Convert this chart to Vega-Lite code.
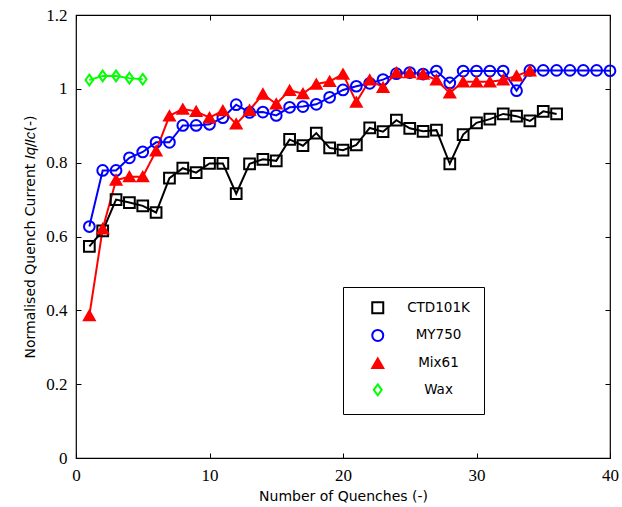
{
  "$schema": "https://vega.github.io/schema/vega-lite/v6.json",
  "width": 534,
  "height": 443,
  "autosize": {"type": "none"},
  "padding": {"left": 76, "top": 15, "right": 12, "bottom": 49},
  "background": "white",
  "config": {
    "view": {"stroke": "black", "strokeWidth": 1.2},
    "axis": {
      "domain": false,
      "grid": false,
      "tickColor": "black",
      "tickSize": -5,
      "tickWidth": 1,
      "labelFlush": false,
      "labelOverlap": false,
      "labelColor": "black",
      "labelFont": "Liberation Serif",
      "labelFontSize": 17,
      "titleColor": "black",
      "titleFont": "DejaVu Sans",
      "titleFontSize": 14,
      "titleFontWeight": "normal"
    }
  },
  "data": {
    "values": [
      {"series": "CTD101K", "n": 1, "v": 0.573},
      {"series": "CTD101K", "n": 2, "v": 0.615},
      {"series": "CTD101K", "n": 3, "v": 0.700},
      {"series": "CTD101K", "n": 4, "v": 0.692},
      {"series": "CTD101K", "n": 5, "v": 0.683},
      {"series": "CTD101K", "n": 6, "v": 0.665},
      {"series": "CTD101K", "n": 7, "v": 0.758},
      {"series": "CTD101K", "n": 8, "v": 0.785},
      {"series": "CTD101K", "n": 9, "v": 0.773},
      {"series": "CTD101K", "n": 10, "v": 0.798},
      {"series": "CTD101K", "n": 11, "v": 0.798},
      {"series": "CTD101K", "n": 12, "v": 0.716},
      {"series": "CTD101K", "n": 13, "v": 0.797},
      {"series": "CTD101K", "n": 14, "v": 0.809},
      {"series": "CTD101K", "n": 15, "v": 0.805},
      {"series": "CTD101K", "n": 16, "v": 0.863},
      {"series": "CTD101K", "n": 17, "v": 0.846},
      {"series": "CTD101K", "n": 18, "v": 0.880},
      {"series": "CTD101K", "n": 19, "v": 0.840},
      {"series": "CTD101K", "n": 20, "v": 0.834},
      {"series": "CTD101K", "n": 21, "v": 0.848},
      {"series": "CTD101K", "n": 22, "v": 0.894},
      {"series": "CTD101K", "n": 23, "v": 0.884},
      {"series": "CTD101K", "n": 24, "v": 0.915},
      {"series": "CTD101K", "n": 25, "v": 0.893},
      {"series": "CTD101K", "n": 26, "v": 0.885},
      {"series": "CTD101K", "n": 27, "v": 0.888},
      {"series": "CTD101K", "n": 28, "v": 0.797},
      {"series": "CTD101K", "n": 29, "v": 0.876},
      {"series": "CTD101K", "n": 30, "v": 0.908},
      {"series": "CTD101K", "n": 31, "v": 0.918},
      {"series": "CTD101K", "n": 32, "v": 0.932},
      {"series": "CTD101K", "n": 33, "v": 0.926},
      {"series": "CTD101K", "n": 34, "v": 0.913},
      {"series": "CTD101K", "n": 35, "v": 0.939},
      {"series": "CTD101K", "n": 36, "v": 0.932},
      {"series": "MY750", "n": 1, "v": 0.627},
      {"series": "MY750", "n": 2, "v": 0.779},
      {"series": "MY750", "n": 3, "v": 0.779},
      {"series": "MY750", "n": 4, "v": 0.813},
      {"series": "MY750", "n": 5, "v": 0.829},
      {"series": "MY750", "n": 6, "v": 0.855},
      {"series": "MY750", "n": 7, "v": 0.855},
      {"series": "MY750", "n": 8, "v": 0.901},
      {"series": "MY750", "n": 9, "v": 0.901},
      {"series": "MY750", "n": 10, "v": 0.904},
      {"series": "MY750", "n": 11, "v": 0.922},
      {"series": "MY750", "n": 12, "v": 0.957},
      {"series": "MY750", "n": 13, "v": 0.936},
      {"series": "MY750", "n": 14, "v": 0.937},
      {"series": "MY750", "n": 15, "v": 0.928},
      {"series": "MY750", "n": 16, "v": 0.950},
      {"series": "MY750", "n": 17, "v": 0.952},
      {"series": "MY750", "n": 18, "v": 0.958},
      {"series": "MY750", "n": 19, "v": 0.977},
      {"series": "MY750", "n": 20, "v": 0.997},
      {"series": "MY750", "n": 21, "v": 1.007},
      {"series": "MY750", "n": 22, "v": 1.015},
      {"series": "MY750", "n": 23, "v": 1.025},
      {"series": "MY750", "n": 24, "v": 1.041},
      {"series": "MY750", "n": 25, "v": 1.044},
      {"series": "MY750", "n": 26, "v": 1.040},
      {"series": "MY750", "n": 27, "v": 1.048},
      {"series": "MY750", "n": 28, "v": 1.016},
      {"series": "MY750", "n": 29, "v": 1.048},
      {"series": "MY750", "n": 30, "v": 1.048},
      {"series": "MY750", "n": 31, "v": 1.048},
      {"series": "MY750", "n": 32, "v": 1.048},
      {"series": "MY750", "n": 33, "v": 0.995},
      {"series": "MY750", "n": 34, "v": 1.050},
      {"series": "MY750", "n": 35, "v": 1.050},
      {"series": "MY750", "n": 36, "v": 1.050},
      {"series": "MY750", "n": 37, "v": 1.050},
      {"series": "MY750", "n": 38, "v": 1.050},
      {"series": "MY750", "n": 39, "v": 1.050},
      {"series": "MY750", "n": 40, "v": 1.049},
      {"series": "Mix61", "n": 1, "v": 0.386},
      {"series": "Mix61", "n": 2, "v": 0.621},
      {"series": "Mix61", "n": 3, "v": 0.753},
      {"series": "Mix61", "n": 4, "v": 0.762},
      {"series": "Mix61", "n": 5, "v": 0.762},
      {"series": "Mix61", "n": 6, "v": 0.832},
      {"series": "Mix61", "n": 7, "v": 0.927},
      {"series": "Mix61", "n": 8, "v": 0.945},
      {"series": "Mix61", "n": 9, "v": 0.939},
      {"series": "Mix61", "n": 10, "v": 0.922},
      {"series": "Mix61", "n": 11, "v": 0.941},
      {"series": "Mix61", "n": 12, "v": 0.905},
      {"series": "Mix61", "n": 13, "v": 0.942},
      {"series": "Mix61", "n": 14, "v": 0.986},
      {"series": "Mix61", "n": 15, "v": 0.959},
      {"series": "Mix61", "n": 16, "v": 0.996},
      {"series": "Mix61", "n": 17, "v": 0.987},
      {"series": "Mix61", "n": 18, "v": 1.013},
      {"series": "Mix61", "n": 19, "v": 1.020},
      {"series": "Mix61", "n": 20, "v": 1.040},
      {"series": "Mix61", "n": 21, "v": 0.964},
      {"series": "Mix61", "n": 22, "v": 1.024},
      {"series": "Mix61", "n": 23, "v": 1.004},
      {"series": "Mix61", "n": 24, "v": 1.044},
      {"series": "Mix61", "n": 25, "v": 1.044},
      {"series": "Mix61", "n": 26, "v": 1.040},
      {"series": "Mix61", "n": 27, "v": 1.024},
      {"series": "Mix61", "n": 28, "v": 0.989},
      {"series": "Mix61", "n": 29, "v": 1.019},
      {"series": "Mix61", "n": 30, "v": 1.019},
      {"series": "Mix61", "n": 31, "v": 1.019},
      {"series": "Mix61", "n": 32, "v": 1.024},
      {"series": "Mix61", "n": 33, "v": 1.035},
      {"series": "Mix61", "n": 34, "v": 1.049},
      {"series": "Wax", "n": 1, "v": 1.024},
      {"series": "Wax", "n": 2, "v": 1.035},
      {"series": "Wax", "n": 3, "v": 1.035},
      {"series": "Wax", "n": 4, "v": 1.029},
      {"series": "Wax", "n": 5, "v": 1.026}
    ]
  },
  "encoding": {
    "color": {
      "field": "series",
      "type": "nominal",
      "scale": {"domain": ["CTD101K", "MY750", "Mix61", "Wax"], "range": ["#000000", "#0000ff", "#ff0000", "#00ff00"]},
      "legend": {
        "title": null,
        "orient": "none",
        "legendX": 267,
        "legendY": 272,
        "fillColor": "white",
        "strokeColor": "black",
        "padding": 14,
        "rowPadding": 7.7,
        "symbolSize": 121,
        "symbolOffset": 14,
        "symbolStrokeWidth": 2,
        "labelFont": "DejaVu Sans",
        "labelFontSize": 13.5,
        "labelColor": "black",
        "labelAlign": "center",
        "labelOffset": 54,
        "encode": {
          "symbols": {
            "update": {
              "size": {"value": 121},
              "strokeWidth": {"value": 2}
            }
          }
        }
      }
    }
  },
  "layer": [
    {
      "mark": {"type": "line", "strokeWidth": 2},
      "encoding": {
        "x": {
          "field": "n", "type": "quantitative",
          "scale": {"domain": [0, 40], "nice": false},
          "axis": {"orient": "bottom", "values": [0, 10, 20, 30, 40], "title": "Number of Quenches (-)", "labelPadding": 14, "titlePadding": 6}
        },
        "y": {
          "field": "v", "type": "quantitative",
          "scale": {"domain": [0, 1.2], "nice": false, "zero": true},
          "axis": {"orient": "left", "values": [0, 0.2, 0.4, 0.6, 0.8, 1, 1.2], "format": "~g", "title": "Normalised Quench Current 𝐼𝑞/𝐼𝑐(-)", "labelPadding": 14, "titlePadding": 8}
        }
      }
    },
    {
      "mark": {"type": "point", "filled": false, "strokeWidth": 2, "opacity": 1, "size": 115},
      "encoding": {
        "x": {
          "field": "n", "type": "quantitative",
          "scale": {"domain": [0, 40], "nice": false},
          "axis": {"orient": "top", "values": [0, 10, 20, 30, 40], "labels": false, "title": null}
        },
        "y": {
          "field": "v", "type": "quantitative",
          "scale": {"domain": [0, 1.2], "nice": false, "zero": true},
          "axis": {"orient": "right", "values": [0, 0.2, 0.4, 0.6, 0.8, 1, 1.2], "labels": false, "title": null}
        },
        "shape": {
          "field": "series", "type": "nominal",
          "scale": {"domain": ["CTD101K", "MY750", "Mix61", "Wax"], "range": ["square", "circle", "triangle-up", "M0,-1L0.72,0L0,1L-0.72,0Z"]},
          "legend": null
        },
        "fill": {
          "field": "series", "type": "nominal",
          "scale": {"domain": ["CTD101K", "MY750", "Mix61", "Wax"], "range": ["transparent", "transparent", "#ff0000", "transparent"]},
          "legend": null
        }
      }
    }
  ],
  "resolve": {"axis": {"x": "independent", "y": "independent"}}
}
